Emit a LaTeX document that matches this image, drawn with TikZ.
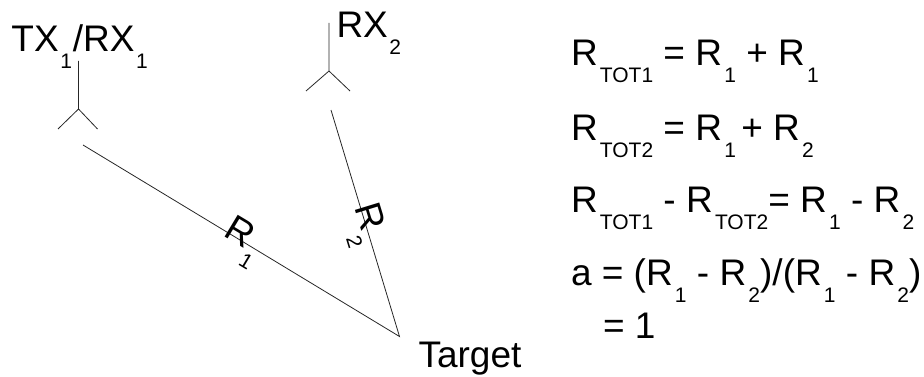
\documentclass[tikz,border=0pt]{standalone}
\usepackage{fontspec}
\setmainfont{Liberation Sans}
\newcommand\bigf{\fontsize{37pt}{42pt}\selectfont}
\newcommand\subf{\fontsize{21pt}{24pt}\selectfont}
\newcommand\Rs[2][R]{#1\kern1.5pt\raisebox{-17pt}{\subf #2}}
\newcommand\Rq[1]{R\kern2.2pt\raisebox{-17pt}{\subf #1}}
\tikzset{
  label text/.style={anchor=base west,inner sep=0pt,outer sep=0pt,font=\bigf,text=black},
  wire/.style={draw=black!85,line width=0.8pt},
}
\begin{document}
\begin{tikzpicture}[x=1pt,y=-1pt]
\useasboundingbox (0,0) rectangle (924,377);
% antenna 1
\coordinate (a1top) at (78.5,61);
\coordinate (a1hub) at (78.5,109);
\coordinate (a1l) at (58,129);
\coordinate (a1r) at (97.5,129);
\draw[wire] (a1top) -- (a1hub) (a1l) -- (a1hub) -- (a1r);
% antenna 2
\coordinate (a2top) at (329,23);
\coordinate (a2hub) at (329,71);
\coordinate (a2l) at (306,91);
\coordinate (a2r) at (350,91);
\draw[wire] (a2top) -- (a2hub) (a2l) -- (a2hub) -- (a2r);
% rays
\coordinate (r1s) at (83,145);
\coordinate (r2s) at (331,110);
\coordinate (tgt) at (399.5,336.5);
\draw[wire] (r1s) -- (tgt) -- (r2s);
% labels
\node[label text] (tx) at (11.5,52) {\Rs[TX]{1}\kern1pt/\Rs[RX]{1}};
\node[label text] (rx) at (336.5,38) {\Rs[RX]{2}};
\node[label text] (target) at (418.5,367) {Target};
\node[label text,rotate=-31] (lr1) at (222,235.5) {\Rs{1}};
\node[label text,rotate=-73] (lr2) at (354,207) {\Rs{2}};
% equations
\node[label text] (e1) at (571,66) {\Rq{TOT1} = \Rq{1} + \Rq{1}};
\node[label text] (e2) at (571,141) {\Rq{TOT2} = \Rq{1}\kern-5pt\ + \Rq{2}};
\node[label text] (e3) at (571,212) {\Rq{TOT1} - \Rq{TOT2}= \Rq{1} - \Rq{2}};
\node[label text] (e4) at (571,285) {a = (\Rq{1} - \Rq{2})/(\Rq{1} - \Rq{2})};
\node[label text] (e5) at (603,338) {= 1};
\end{tikzpicture}
\end{document}
